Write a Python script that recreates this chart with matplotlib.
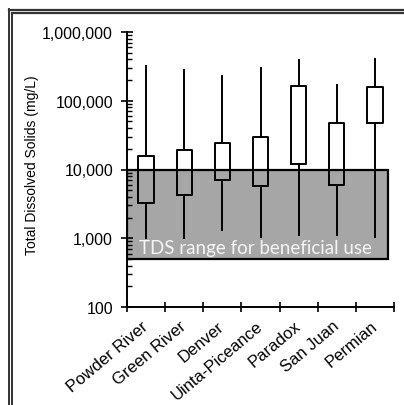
import matplotlib
matplotlib.use("Agg")
import matplotlib.pyplot as plt
from matplotlib.patches import Rectangle
from matplotlib.lines import Line2D
from matplotlib.ticker import FuncFormatter, LogLocator, FixedLocator, NullFormatter

# basin TDS statistics (mg/L)
basins = ['Powder River', 'Green River', 'Denver', 'Uinta-Piceance', 'Paradox', 'San Juan', 'Permian']
tds_min = [1000, 1000, 1300, 1030, 1100, 1120, 1050]
tds_q1 = [3300, 4300, 7100, 5700, 12000, 6000, 48000]
tds_q3 = [15500, 19400, 24300, 30000, 162000, 48000, 160000]
tds_max = [316000, 283000, 232000, 296000, 387000, 169000, 409000]

# beneficial use band
use_low = 500
use_high = 10000

plt.rcParams['font.family'] = ['Liberation Sans', 'DejaVu Sans']

fig = plt.figure(figsize=(4.04, 4.06), dpi=100)
ax = fig.add_axes([127/404, 1 - 308/406, (394 - 127)/404, (308 - 33)/406])

ax.set_yscale('log')
ax.set_ylim(100, 1e6)
ax.set_xlim(-0.5, 6.5)

# shaded band first so the boxes sit on top
band = Rectangle((-0.5, use_low), 6.835, use_high - use_low,
                 facecolor='#a6a6a6', edgecolor='black', linewidth=1.6, zorder=1)
ax.add_patch(band)
ax.text(2.88, 730, 'TDS range for beneficial use', color='#f4f4f4',
        fontsize=13.5, family=['Lato', 'DejaVu Sans'], ha='center', va='center', zorder=2)

stats = []
for i in range(len(basins)):
    stats.append({'whislo': tds_min[i], 'q1': tds_q1[i], 'med': tds_q1[i],
                  'q3': tds_q3[i], 'whishi': tds_max[i]})
ax.bxp(stats, positions=range(len(basins)), widths=0.4, showfliers=False,
       showcaps=False, patch_artist=False,
       boxprops=dict(color='black', linewidth=1.4),
       whiskerprops=dict(color='black', linewidth=1.4),
       medianprops=dict(visible=False), zorder=3)

for s in ['top', 'right']:
    ax.spines[s].set_visible(False)
for s in ['left', 'bottom']:
    ax.spines[s].set_linewidth(1.4)

# x: ticks at the boundaries, labels at the centres
ax.xaxis.set_major_locator(FixedLocator([i - 0.5 for i in range(len(basins) + 1)]))
ax.xaxis.set_major_formatter(NullFormatter())
ax.xaxis.set_minor_locator(FixedLocator(range(len(basins))))
ax.set_xticklabels(basins, minor=True, rotation=40, ha='right', va='center',
                   rotation_mode='anchor', fontsize=12)
ax.tick_params(axis='x', which='major', direction='inout', length=7, width=1.2)
ax.tick_params(axis='x', which='minor', length=0, pad=12)

ax.yaxis.set_major_locator(LogLocator(base=10, numticks=10))
ax.yaxis.set_minor_locator(LogLocator(base=10, subs=range(2, 10), numticks=10))
ax.yaxis.set_major_formatter(FuncFormatter(lambda v, p: f'{v:,.0f}'))
ax.yaxis.set_minor_formatter(NullFormatter())
ax.tick_params(axis='y', which='major', direction='inout', length=8, width=1.2, labelsize=11.5, pad=6)
ax.tick_params(axis='y', which='minor', direction='in', length=3.5, width=1.0)
ax.set_ylabel('Total Dissolved Solids (mg/L)', fontsize=10)
ax.yaxis.set_label_coords((39 - 127) / 267, 0.52)

# double frame along the left and top edges
for x in [8.5 / 404, 12 / 404]:
    fig.add_artist(Line2D([x, x], [0, 1 - 10 / 406 if x < 0.025 else 1 - 14 / 406],
                          transform=fig.transFigure, color='#222222', linewidth=1.3))
for y in [1 - 10.5 / 406, 1 - 14 / 406]:
    fig.add_artist(Line2D([8.5 / 404 if y > 0.97 else 12 / 404, 1], [y, y],
                          transform=fig.transFigure, color='#333333', linewidth=1.6))

fig.savefig('out.png', dpi=100)
